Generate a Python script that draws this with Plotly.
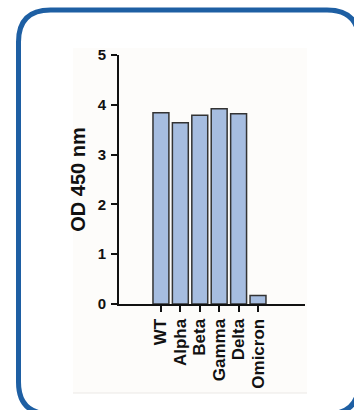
import plotly.graph_objects as go

# ELISA readout per variant
variants = ["WT", "Alpha", "Beta", "Gamma", "Delta", "Omicron"]
od450 = [3.84, 3.64, 3.79, 3.92, 3.82, 0.17]
y_ticks = [0, 1, 2, 3, 4, 5]

W, H = 354, 410
L, R, T, B = 119, 49, 55, 106
pw, ph = W - L - R, H - T - B


def px(x):
    return (x - L) / pw


def py(y):
    return (H - B - y) / ph


def rounded_rect(x0, y0, x1, y1, r):
    return (
        f"M {px(x0 + r)},{py(y0)} L {px(x1 - r)},{py(y0)} "
        f"Q {px(x1)},{py(y0)} {px(x1)},{py(y0 + r)} "
        f"L {px(x1)},{py(y1 - r)} Q {px(x1)},{py(y1)} {px(x1 - r)},{py(y1)} "
        f"L {px(x0 + r)},{py(y1)} Q {px(x0)},{py(y1)} {px(x0)},{py(y1 - r)} "
        f"L {px(x0)},{py(y0 + r)} Q {px(x0)},{py(y0)} {px(x0 + r)},{py(y0)} Z"
    )


fig = go.Figure(
    go.Bar(
        x=variants,
        y=od450,
        width=0.82,
        marker=dict(color="#a6bde0", line=dict(color="#333333", width=1.5)),
    )
)

font = "Liberation Sans, Arial, sans-serif"

fig.update_layout(
    width=W,
    height=H,
    margin=dict(l=L, r=R, t=T, b=B),
    paper_bgcolor="white",
    plot_bgcolor="rgba(0,0,0,0)",
    showlegend=False,
    font=dict(family=font, color="#111"),
    xaxis=dict(
        range=[-2.16, 7.42],
        tickmode="array",
        tickvals=variants,
        ticktext=variants,
        showline=True,
        linecolor="#111",
        linewidth=2,
        ticks="outside",
        ticklen=6,
        tickwidth=2,
        tickcolor="#111",
        tickangle=-90,
        tickfont=dict(size=17, family=font, weight="bold"),
        showgrid=False,
        zeroline=False,
    ),
    yaxis=dict(
        range=[0, 5],
        tickmode="array",
        tickvals=y_ticks,
        ticktext=[str(v) for v in y_ticks],
        showline=True,
        linecolor="#111",
        linewidth=2,
        ticks="outside",
        ticklen=6,
        tickwidth=2,
        tickcolor="#111",
        ticklabelstandoff=2,
        tickfont=dict(size=15, family=font, weight="bold"),
        title=dict(text="OD 450 nm", font=dict(size=20, family=font, weight="bold"), standoff=7),
        showgrid=False,
        zeroline=False,
    ),
    shapes=[
        dict(
            type="rect", xref="paper", yref="paper", layer="below",
            x0=px(73), x1=px(307), y0=py(48), y1=py(393),
            fillcolor="#fdfcfa", line=dict(width=0),
        ),
        dict(
            type="line", xref="paper", yref="paper", layer="below",
            x0=px(73), x1=px(307), y0=py(393), y1=py(393),
            line=dict(color="#ebe9e6", width=1),
        ),
        dict(
            type="path", xref="paper", yref="paper", layer="above",
            path=rounded_rect(18.5, 10, 359, 414, 32),
            line=dict(color="#1e5fa3", width=5),
        ),
    ],
)

fig.write_html("out.html")
